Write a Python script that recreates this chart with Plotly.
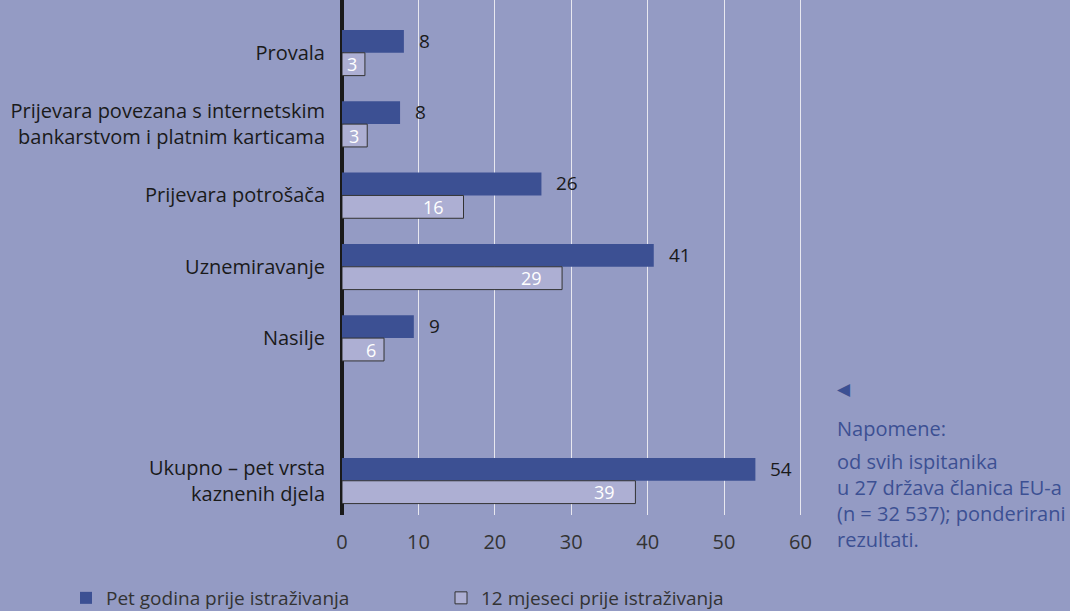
import plotly.graph_objects as go

# categories, top to bottom; None marks the empty spacer row
categories = [
    "Provala",
    "Prijevara povezana s internetskim<br>bankarstvom i platnim karticama",
    "Prijevara potrošača",
    "Uznemiravanje",
    "Nasilje",
    None,
    "Ukupno – pet vrsta<br>kaznenih djela",
]
five_years = [8.1, 7.6, 26.1, 40.8, 9.4, None, 54.1]
twelve_months = [3.0, 3.3, 15.9, 28.8, 5.5, None, 38.4]
five_labels = ["8", "8", "26", "41", "9", None, "54"]
twelve_labels = ["3", "3", "16", "29", "6", None, "39"]

x_ticks = [0, 10, 20, 30, 40, 50, 60]

BG = "#949bc4"
DARK = "#3c5093"
LIGHT = "#adafd3"
FONT = "Open Sans"

# plot area in pixels, used to place the side notes
L, R, T, B = 342, 268, 0, 96
PW, PH = 1070 - L - R, 611 - T - B


def px(x):
    return (x - L) / PW


def py(y):
    return (611 - B - y) / PH


pos = list(range(len(categories)))

fig = go.Figure()
fig.add_trace(go.Bar(
    y=pos, x=five_years, orientation="h",
    name="Pet godina prije istraživanja",
    marker=dict(color=DARK, line=dict(width=0)),
    hoverinfo="skip", legend="legend",
))
fig.add_trace(go.Bar(
    y=pos, x=twelve_months, orientation="h",
    name="12 mjeseci prije istraživanja",
    marker=dict(color=LIGHT, line=dict(color="#333333", width=1)),
    hoverinfo="skip", legend="legend2",
))

# value labels
for p, v, t in zip(pos, five_years, five_labels):
    if v is None:
        continue
    fig.add_annotation(
        x=v, y=p - 0.17, text=t, showarrow=False,
        xanchor="left", yanchor="middle", xshift=13,
        font=dict(family=FONT, size=19, color="#1a1a1a"),
    )
for p, v, t in zip(pos, twelve_months, twelve_labels):
    if v is None:
        continue
    fig.add_annotation(
        x=v, y=p + 0.16, text=t, showarrow=False,
        xanchor="right", yanchor="middle", xshift=-18 if v > 10 else -6,
        font=dict(family=FONT, size=18, color="white"),
    )

# side notes
fig.add_annotation(
    xref="paper", yref="paper", x=px(835), y=py(389),
    text="◀", showarrow=False, xanchor="left", yanchor="middle",
    font=dict(family="DejaVu Sans", size=17, color=DARK),
)
fig.add_annotation(
    xref="paper", yref="paper", x=px(835), y=py(428),
    text="Napomene:", showarrow=False, xanchor="left", yanchor="middle",
    font=dict(family=FONT, size=20, color=DARK),
)
fig.add_annotation(
    xref="paper", yref="paper", x=px(835), y=py(500),
    text="od svih ispitanika<br>u 27 država članica EU-a<br>(n = 32 537); ponderirani<br>rezultati.",
    showarrow=False, xanchor="left", yanchor="middle", align="left",
    font=dict(family=FONT, size=20, color=DARK),
)

legend_style = dict(
    orientation="h", xref="container", yref="container",
    y=1 - 598 / 611, xanchor="left", yanchor="middle",
    bgcolor="rgba(0,0,0,0)",
    font=dict(family=FONT, size=19, color="#333333"),
)

fig.update_layout(
    width=1070, height=611,
    paper_bgcolor=BG, plot_bgcolor=BG,
    margin=dict(l=L, r=R, t=T, b=B),
    barmode="group", bargap=0.36, bargroupgap=0,
    font=dict(family=FONT, size=18, color="#1a1a1a"),
    showlegend=True,
    legend=dict(x=66 / 1070, **legend_style),
    legend2=dict(x=441 / 1070, **legend_style),
    xaxis=dict(
        range=[0, 60.2], tickvals=x_ticks,
        showgrid=True, gridcolor="#e8e8f0", gridwidth=1.3,
        zeroline=True, zerolinecolor="#1a1a1a", zerolinewidth=4,
        ticks="outside", ticklen=9, tickcolor="rgba(0,0,0,0)",
        tickfont=dict(family=FONT, size=20, color="#333333"),
        showline=False, fixedrange=True,
    ),
    yaxis=dict(
        range=[6.48, -0.74],
        tickvals=[p for p, c in zip(pos, categories) if c is not None],
        ticktext=[c for c in categories if c is not None],
        showgrid=False, zeroline=False, showline=False,
        ticks="outside", ticklen=12, tickcolor="rgba(0,0,0,0)",
        tickfont=dict(family=FONT, size=20, color="#1a1a1a"),
        fixedrange=True,
    ),
)

# page body margin would offset the figure inside the window
fig.write_html(
    "out.html",
    config={"displayModeBar": False},
    post_script="document.body.style.margin='0';",
)
